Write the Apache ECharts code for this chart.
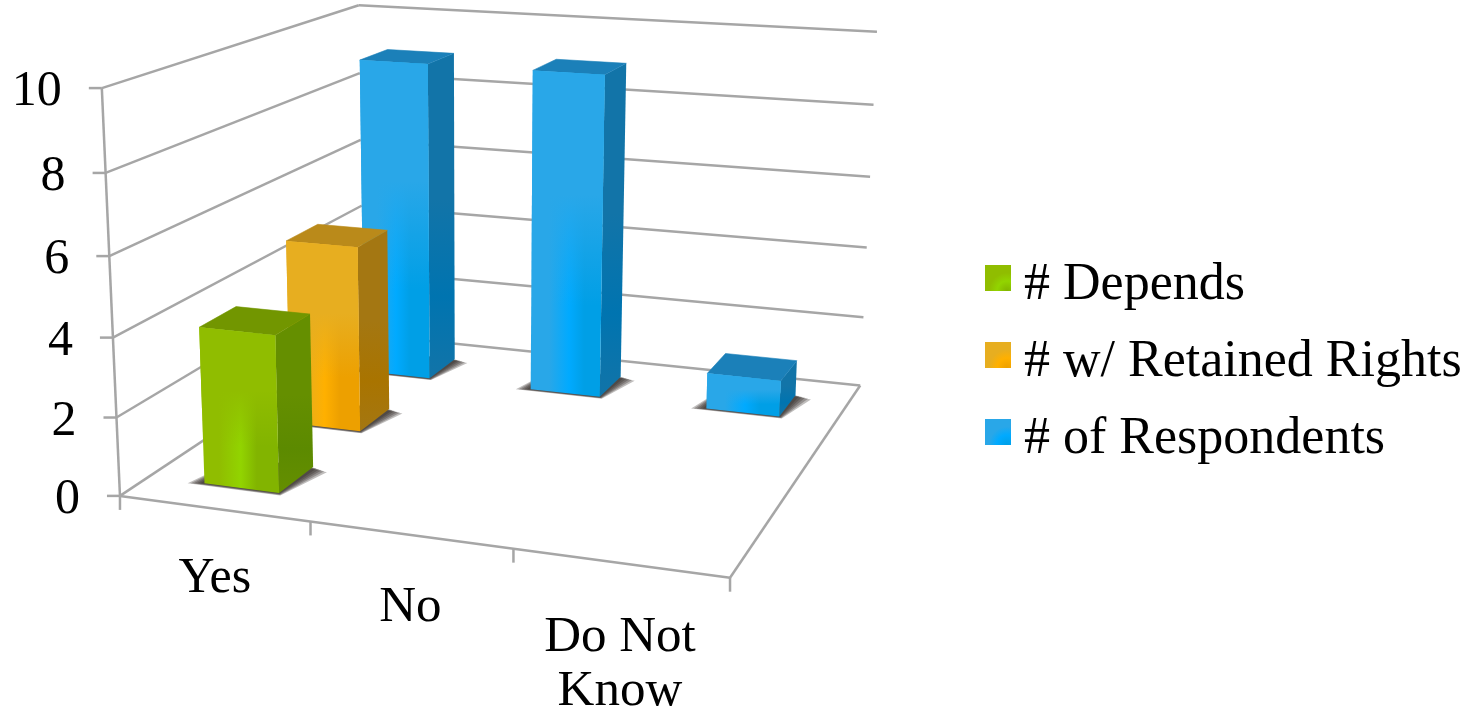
<!DOCTYPE html>
<html>
<head>
<meta charset="utf-8">
<style>html,body{margin:0;padding:0;background:#fff}#chart{width:1473px;height:710px}</style>
<script src="https://cdn.jsdelivr.net/npm/echarts@6/dist/echarts.min.js"></script>
</head>
<body>
<div id="chart"></div>
<script>
// Survey answers by category
const categories = ['Yes', 'No', 'Do Not\nKnow'];
const seriesNames = ['# Depends', '# w/ Retained Rights', '# of Respondents'];
const dependsValues = [4, null, null];
const retainedValues = [5, null, null];
const respondentValues = [9, 9, 1];
const valueTicks = [0, 2, 4, 6, 8, 10];

const FONT = '"Liberation Serif", serif';
const AXIS_COLOR = '#a6a6a6';

// Screen anchors of the box: [category fraction, depth fraction, height fraction, x, y]
const boxAnchors = [
  [0, 0, 0, 121, 496], [0, 0, .2, 117, 417], [0, 0, .4, 113, 337],
  [0, 0, .6, 109, 255], [0, 0, .8, 105, 173], [0, 0, 1, 101, 89],
  [1, 1, 0, 860, 385], [1, 1, .2, 864, 317], [1, 1, .4, 867, 247],
  [1, 1, .6, 870, 177], [1, 1, .8, 873, 105], [1, 1, 1, 877, 32],
  [0, 1, 1, 360, 5], [0, 1, 0, 362, 335], [1, 0, 0, 730, 578],
  [1 / 3, 0, 0, 311, 522], [2 / 3, 0, 0, 513, 549]
];

// Least-squares fit of a projective camera through the anchors
function fitCamera(anchors) {
  const n = 11, A = [], b = [];
  for (let i = 0; i < n; i++) { A.push(new Array(n).fill(0)); b.push(0); }
  const add = (row, rhs) => {
    for (let i = 0; i < n; i++) {
      for (let j = 0; j < n; j++) A[i][j] += row[i] * row[j];
      b[i] += row[i] * rhs;
    }
  };
  anchors.forEach(([u, v, w, px, py]) => {
    const x = px / 1000, y = py / 1000;
    add([u, v, w, 1, 0, 0, 0, 0, -x * u, -x * v, -x * w], x);
    add([0, 0, 0, 0, u, v, w, 1, -y * u, -y * v, -y * w], y);
  });
  for (let c = 0; c < n; c++) {
    let p = c;
    for (let r = c + 1; r < n; r++) if (Math.abs(A[r][c]) > Math.abs(A[p][c])) p = r;
    [A[c], A[p]] = [A[p], A[c]]; [b[c], b[p]] = [b[p], b[c]];
    for (let r = c + 1; r < n; r++) {
      const f = A[r][c] / A[c][c];
      for (let k = c; k < n; k++) A[r][k] -= f * A[c][k];
      b[r] -= f * b[c];
    }
  }
  const s = new Array(n).fill(0);
  for (let c = n - 1; c >= 0; c--) {
    let t = b[c];
    for (let k = c + 1; k < n; k++) t -= A[c][k] * s[k];
    s[c] = t / A[c][c];
  }
  return s;
}
const cam = fitCamera(boxAnchors);
function project(u, v, w) {
  const d = cam[8] * u + cam[9] * v + cam[10] * w + 1;
  return [
    1000 * (cam[0] * u + cam[1] * v + cam[2] * w + cam[3]) / d,
    1000 * (cam[4] * u + cam[5] * v + cam[6] * w + cam[7]) / d
  ];
}

// Convert a point on the flat grid into box fractions using the axis scales
function toBox(api, params, cat, val) {
  const c = api.coord([cat, val]), g = params.coordSys;
  return [(c[0] - g.x) / g.width, (g.y + g.height - c[1]) / g.height];
}

const BAR_WIDTH = 0.4 / 3;
const BAR_DEPTH = 0.4 / 3;
const SHADOW_STEPS = [0.032, 0.026, 0.02, 0.014, 0.008];

const palettes = [
  { front: '#90bd00', bright: '#92d400', deep: '#82b400', side: '#658f00', sideLow: '#5c8a00', top: '#729600' },
  { front: '#e7ae20', bright: '#ffb000', deep: '#eda000', side: '#a47712', sideLow: '#a97400', top: '#ba8a1a' },
  { front: '#29a7e8', bright: '#00aaff', deep: '#009fe6', side: '#1274a8', sideLow: '#0074b0', top: '#1b80b9' }
];

function linear(x, y, x2, y2, stops) {
  return { type: 'linear', x, y, x2, y2, colorStops: stops.map(([offset, color]) => ({ offset, color })) };
}
function fade(hex, a) {
  const n = parseInt(hex.slice(1), 16);
  return 'rgba(' + (n >> 16) + ',' + ((n >> 8) & 255) + ',' + (n & 255) + ',' + a + ')';
}

function poly(points, fill) {
  const solid = typeof fill === 'string';
  return {
    type: 'polygon',
    shape: { points },
    style: { fill, stroke: solid ? fill : null, lineWidth: solid ? 0.6 : 0 }
  };
}

// Soft contact shadow on the floor, built from stacked translucent outlines
function contactShadow(u0, u1, v0, v1) {
  return SHADOW_STEPS.map(s => ({
    type: 'polygon',
    shape: { points: [
      project(u0 - s * 0.8, v0 - s * 0.3, 0), project(u1 + s * 0.2, v0 - s * 0.3, 0),
      project(u1 + s, v1 - s * 0.5, 0), project(u1 - s, v1, 0), project(u0, v1, 0)
    ] },
    style: { fill: 'rgba(45,40,35,0.3)' }
  }));
}

function renderBar(seriesPos) {
  return function (params, api) {
    const val = api.value(1);
    const [uc, w] = toBox(api, params, api.value(0), val);
    const vc = (seriesPos + 0.5) / 3;
    const u0 = uc - BAR_WIDTH / 2, u1 = uc + BAR_WIDTH / 2;
    const v0 = vc - BAR_DEPTH / 2, v1 = vc + BAR_DEPTH / 2;
    const P = palettes[seriesPos];
    const fbl = project(u0, v0, 0), fbr = project(u1, v0, 0);
    const bbr = project(u1, v1, 0);
    const ftl = project(u0, v0, w), ftr = project(u1, v0, w);
    const btl = project(u0, v1, w), btr = project(u1, v1, w);
    return {
      type: 'group',
      children: contactShadow(u0, u1, v0, v1).concat([
        poly([fbr, bbr, btr, ftr], linear(0, 0, 0, 1, [[0, P.side], [0.45, P.side], [0.75, P.sideLow], [1, P.side]])),
        poly([ftl, ftr, btr, btl], P.top),
        poly([fbl, fbr, ftr, ftl], linear(0, 0, 1, 0, [[0, P.front], [0.25, P.front], [0.52, P.bright], [0.72, P.deep], [1, P.deep]])),
        poly([fbl, fbr, ftr, ftl], linear(0, 0, 0, 1, [[0, P.front], [0.38, P.front], [0.72, fade(P.front, 0)], [1, fade(P.front, 0)]]))
      ])
    };
  };
}

function line(a, b) {
  return {
    type: 'line',
    shape: { x1: a[0], y1: a[1], x2: b[0], y2: b[1] },
    style: { stroke: AXIS_COLOR, lineWidth: 2.5, fill: null }
  };
}

// Walls, gridlines and value labels, one entry per value tick
function renderValueTick(params, api) {
  const [, w] = toBox(api, params, 0, api.value(0));
  const front = project(0, 0, w), back = project(0, 1, w), right = project(1, 1, w);
  return {
    type: 'group',
    children: [
      line(front, back), line(back, right),
      line([front[0] - 13, front[1]], front),
      { type: 'text', style: {
        text: String(api.value(0)), x: front[0] - 40, y: front[1] + 4,
        align: 'right', verticalAlign: 'middle', fill: '#000', fontFamily: FONT, fontSize: 50 } }
    ]
  };
}

// Front edge ticks and category labels
function renderCategory(params, api) {
  const idx = api.value(0);
  const [uc] = toBox(api, params, idx, 0);
  const start = project(uc - 0.5 / 3, 0, 0);
  const mid = project(uc, 0, 0);
  const kids = [
    line(start, [start[0], start[1] + 14]),
    { type: 'text', style: {
      text: categories[idx], x: mid[0] + (idx === 0 ? 1 : 0), y: mid[1] + 43 + idx * 2.5,
      align: 'center', verticalAlign: 'top', fill: '#000', fontFamily: FONT, fontSize: idx === 0 ? 50 : 51, lineHeight: 54 } }
  ];
  if (idx === categories.length - 1) {
    const end = project(1, 0, 0);
    kids.push(line(end, [end[0], end[1] + 14]));
  }
  return { type: 'group', children: kids };
}

// Frame of the box: floor edges and the left upright
function renderFrame() {
  const fl = project(0, 0, 0), fr = project(1, 0, 0), br = project(1, 1, 0), tl = project(0, 0, 1);
  return { type: 'group', children: [line(fl, fr), line(fr, br), line(fl, tl)] };
}

function legendSwatch(P) {
  return {
    type: 'radial', x: 0.85, y: 1, r: 0.7,
    colorStops: [{ offset: 0, color: P.deep }, { offset: 0.55, color: P.bright }, { offset: 1, color: P.front }]
  };
}

const barData = vals => vals.map((v, i) => [i, v]).filter(d => d[1] !== null);
const allBars = [dependsValues, retainedValues, respondentValues];

const option = {
  animation: false,
  backgroundColor: '#fff',
  // Flat grid kept hidden: it supplies the scales that feed the projection
  grid: { left: 100, top: 50, width: 700, height: 450, show: false },
  xAxis: { type: 'category', data: categories, show: false },
  yAxis: { type: 'value', min: 0, max: 10, interval: 2, show: false },
  legend: {
    orient: 'vertical', left: 985, top: 245, padding: 0,
    itemWidth: 26, itemHeight: 26, itemGap: 11,
    icon: 'rect',
    selectedMode: false,
    formatter: name => '{t|' + name + '}',
    textStyle: {
      color: '#000',
      rich: { t: { fontFamily: FONT, fontSize: 52, color: '#000', lineHeight: 50, padding: [14, 0, 0, 8] } }
    },
    data: seriesNames.map((name, i) => ({
      name, itemStyle: { color: legendSwatch(palettes[i]) }
    }))
  },
  series: [
    { type: 'custom', name: 'frame', z: 1, silent: true, renderItem: renderFrame, data: [[0]] },
    { type: 'custom', name: 'ticks', z: 1, silent: true, renderItem: renderValueTick,
      encode: { y: 0 }, data: valueTicks.map(v => [v]) },
    { type: 'custom', name: 'cats', z: 1, silent: true, renderItem: renderCategory,
      encode: { x: 0 }, data: categories.map((c, i) => [i]) }
  ].concat(seriesNames.map((name, i) => ({
    type: 'custom', name, z: 10 - i, silent: true,
    itemStyle: { color: palettes[i].front },
    renderItem: renderBar(i),
    encode: { x: 0, y: 1 },
    data: barData(allBars[i])
  })))
};

echarts.init(document.getElementById('chart')).setOption(option);
</script>
</body>
</html>
